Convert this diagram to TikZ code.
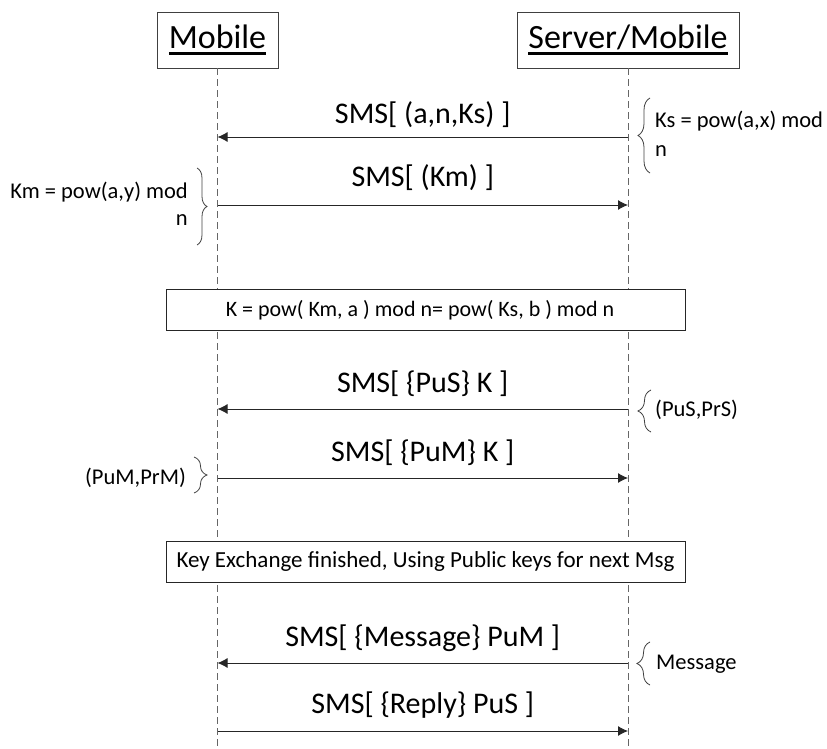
\documentclass[tikz,border=0pt]{standalone}
\usepackage{fontspec}
\setmainfont{Carlito}
\usetikzlibrary{arrows.meta,decorations.pathreplacing}
\newcommand\myul[1]{\setbox0\hbox{#1}\rlap{\rule[-6.5pt]{\wd0}{3pt}}\box0}
\begin{document}
\begin{tikzpicture}[x=1pt,y=-1pt,
 hdr/.style={draw=black!75, line width=0.9pt, minimum height=56pt, inner sep=0pt, font=\fontsize{34}{40}\selectfont},
 life/.style={draw=black!60, line width=0.9pt, dash pattern=on 7pt off 4pt},
 msg/.style={draw=black!85, line width=0.9pt, -{Latex[length=10pt,width=10pt]}},
 lbl/.style={font=\fontsize{30}{36}\selectfont, anchor=base, inner sep=0pt},
 note/.style={font=\fontsize{22.5}{26}\selectfont, inner sep=0pt},
 brc/.style={draw=black!75, line width=0.8pt, decorate, decoration={brace, amplitude=#1}},
 bar/.style={draw=black!85, line width=0.9pt, fill=white, minimum width=519pt, minimum height=41pt, inner sep=0pt}
]
\useasboundingbox (0,0) rectangle (827,749);
% headers
\node[hdr, minimum width=121pt] (mob) at (217.5,40) {\myul{Mobile}};
\node[hdr, minimum width=222pt] (srv) at (628,40) {\myul{Server/Mobile}};
% lifelines
\coordinate (mobend) at (217.5,749);
\coordinate (srvend) at (628,749);
\draw[life] (mob.south) -- (mobend);
\draw[life] (srv.south) -- (srvend);
% message end points
\foreach \i/\y in {1/137,2/205,3/409,4/478,5/663,6/731}{
  \coordinate (m\i) at (217.5,\y);
  \coordinate (s\i) at (628,\y);
}
\draw[msg] (s1) -- node[lbl, yshift=13pt] (l1) {SMS[ (a,n,Ks) ]} (m1);
\draw[msg] (m2) -- node[lbl, yshift=19pt] (l2) {SMS[ (Km) ]} (s2);
\draw[msg] (s3) -- node[lbl, yshift=17pt] (l3) {SMS[ \{PuS\} K ]} (m3);
\draw[msg] (m4) -- node[lbl, yshift=17pt] (l4) {SMS[ \{PuM\} K ]} (s4);
\draw[msg] (s5) -- node[lbl, yshift=17pt] (l5) {SMS[ \{Message\} PuM ]} (m5);
\draw[msg] (m6) -- node[lbl, yshift=18pt] (l6) {SMS[ \{Reply\} PuS ]} (s6);
% braces and notes
\draw[brc=12pt] (650,173) -- (650,98);
\node[note, anchor=base west] (ks1) at (655,128) {Ks = pow(a,x) mod};
\node[note, anchor=base west] (ks2) at (655,157) {n};
\draw[brc=10pt] (197,168) -- (197,245);
\node[note, anchor=base east] (km1) at (188,198) {Km = pow(a,y) mod};
\node[note, anchor=base east] (km2) at (188,225) {n};
\draw[brc=13pt] (651,432) -- (651,390);
\node[note, anchor=west] (pus) at (655,410) {(PuS,PrS)};
\draw[brc=13pt] (194,457) -- (194,493);
\node[note, anchor=east] (pum) at (186,478) {(PuM,PrM)};
\draw[brc=13pt] (650,685) -- (650,642);
\node[note, anchor=base west] (msgn) at (656,669) {Message};
% bars
\node[bar, font=\fontsize{22}{26}\selectfont] (kbox) at (425.5,310) {K = pow( Km, a ) mod n= pow( Ks, b ) mod n\hspace*{11pt}};
\node[bar, font=\fontsize{23}{27}\selectfont] (kex) at (425.5,561.5) {Key Exchange finished, Using Public keys for next Msg};
\end{tikzpicture}
\end{document}
